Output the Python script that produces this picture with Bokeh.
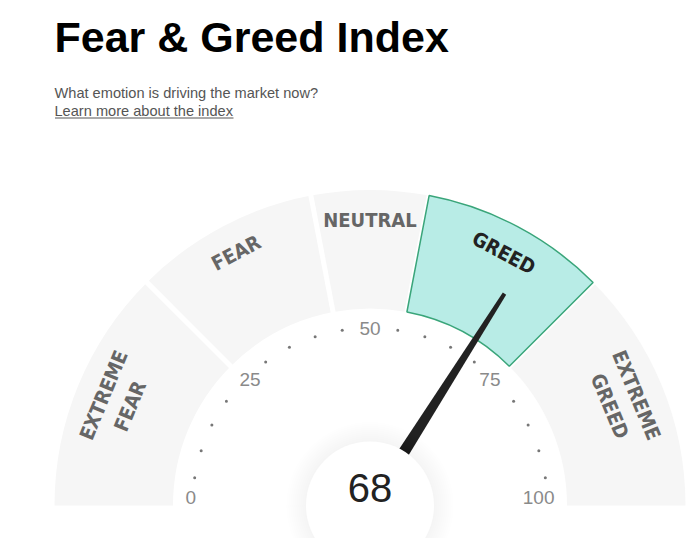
import numpy as np
from bokeh.plotting import figure
from bokeh.models import Range1d
from bokeh.embed import file_html
from bokeh.resources import INLINE
from bokeh.core.properties import value

# ---- data ----
title = "Fear & Greed Index"
subtitle = "What emotion is driving the market now?"
link_text = "Learn more about the index"

segment_names = ["EXTREME\nFEAR", "FEAR", "NEUTRAL", "GREED", "EXTREME\nGREED"]
segment_bounds = [0, 25, 44, 56, 75, 100]
tick_values = [0, 25, 50, 75, 100]
tick_labels = ["0", "25", "50", "75", "100"]
minor_tick_values = [5, 10, 15, 20, 30, 35, 40, 45, 55, 60, 65, 70, 80, 85, 90, 95]
current_value = 68
active_segment = "GREED"

# ---- layout ----
W, H = 695, 538
PAGE_H = 542
def sy(s):
    return PAGE_H - s

p = figure(width=W, height=H, x_range=Range1d(0, W), y_range=Range1d(PAGE_H - H, PAGE_H),
           output_backend="svg", toolbar_location=None, min_border=0,
           x_axis_type=None, y_axis_type=None)
p.grid.visible = False
p.outline_line_color = None
p.background_fill_color = "white"
p.border_fill_color = "white"

cx, cy = 369.5, sy(505)
R_OUT, R_IN = 315.5, 197
def ang(v):
    return np.pi * (1 - np.asarray(v, dtype=float) / 100.0)

# title texts
p.text(x=[54], y=[sy(36.7)], text=[title], text_font=value("Liberation Sans"), text_font_style="bold",
       text_font_size="43px", text_color="#000000", text_baseline="middle", text_align="left")
p.text(x=[54], y=[sy(92.8)], text=[subtitle], text_font=value("Liberation Sans"),
       text_font_size="14.6px", text_color="#555555", text_baseline="middle", text_align="left")
p.text(x=[54], y=[sy(110.5)], text=[link_text], text_font=value("Liberation Sans"),
       text_font_size="14.6px", text_color="#555555", text_baseline="middle", text_align="left")
p.segment(x0=[54.5], y0=[sy(117.5)], x1=[233], y1=[sy(117.5)], line_color="#555555", line_width=1)

# segments
starts = np.array(segment_bounds[:-1], dtype=float)
ends = np.array(segment_bounds[1:], dtype=float)
inactive = [i for i, n in enumerate(segment_names) if n != active_segment]
p.annular_wedge(x=cx, y=cy, inner_radius=R_IN, outer_radius=R_OUT,
                start_angle=ang(ends[inactive]), end_angle=ang(starts[inactive]),
                fill_color="#f6f6f6", line_color=None)
# white gaps
b = ang(segment_bounds[1:-1])
p.segment(x0=cx + (R_IN - 5) * np.cos(b), y0=cy + (R_IN - 5) * np.sin(b),
          x1=cx + (R_OUT + 5) * np.cos(b), y1=cy + (R_OUT + 5) * np.sin(b),
          line_color="white", line_width=5)
act = segment_names.index(active_segment)
p.annular_wedge(x=cx, y=cy, inner_radius=R_IN, outer_radius=R_OUT,
                start_angle=ang(ends[act]), end_angle=ang(starts[act]),
                fill_color="#b8ece6", line_color="#3aa57a", line_width=1.5)

# segment labels (first line sits near the outer rim; extra lines go inward)
mids = (starts + ends) / 2
ma = ang(mids)
R_LAB = 286
nlines = np.array([n.count("\n") + 1 for n in segment_names])
rl = R_LAB - 12 * (nlines - 1)
colors = ["#222222" if n == active_segment else "#666666" for n in segment_names]
p.text(x=cx + rl * np.cos(ma), y=cy + rl * np.sin(ma), text=segment_names,
       angle=ma - np.pi / 2, text_font=value("DejaVu Sans Condensed"), text_font_style="bold",
       text_font_size="20px", text_color=colors, text_align="center", text_baseline="middle",
       text_line_height=1.2)

# minor dots
da = ang(minor_tick_values)
R_DOT = 177.5
p.scatter(x=cx + R_DOT * np.cos(da), y=cy + R_DOT * np.sin(da), size=3, marker="circle",
          fill_color="#777777", line_color=None)

# tick labels
ta = ang(tick_values)
tx = cx + 184.5 * np.cos(ta)
ty = cy + np.maximum(177.5 * np.sin(ta), 8)
aligns = ["left" if v < 50 else ("center" if v == 50 else "right") for v in tick_values]
p.text(x=tx, y=ty, text=tick_labels, text_font=value("Liberation Sans"), text_font_size="19px",
       text_color="#8a8a8a", text_align=aligns, text_baseline="middle")

# needle
na = float(ang(current_value))
u = np.array([np.cos(na), np.sin(na)])
n = np.array([-np.sin(na), np.cos(na)])
L, w0, w1 = 251, 6.8, 2.0
pts = [w0 * n, u * L + w1 * n, u * L - w1 * n, -w0 * n]
p.patch(x=[cx + q[0] for q in pts], y=[cy + q[1] for q in pts], fill_color="#222222", line_color=None)

# center shadow + circle
for r in range(84, 64, -2):
    p.circle(x=[cx], y=[cy], radius=r, fill_color="black", fill_alpha=0.005, line_color=None)
p.circle(x=[cx], y=[cy], radius=64, fill_color="white", line_color=None)
p.text(x=[cx], y=[sy(487)], text=[str(current_value)], text_font=value("Liberation Sans"),
       text_font_size="40px", text_color="#222222", text_align="center", text_baseline="middle")

open("out.html", "w").write(file_html(p, INLINE))
